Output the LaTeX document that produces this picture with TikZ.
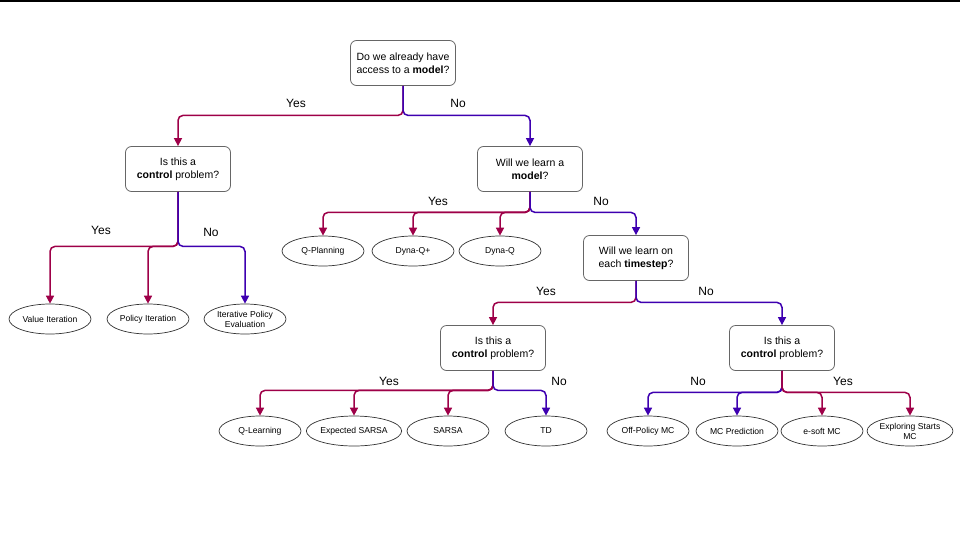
\documentclass[tikz,border=0pt]{standalone}
\usepackage{fontspec}
\setmainfont{Liberation Sans}
\usetikzlibrary{shapes.geometric,arrows.meta}
\definecolor{yesc}{HTML}{9E0048}
\definecolor{noc}{HTML}{3E00B0}
\definecolor{boxc}{HTML}{666666}
\tikzset{
  qbox/.style={draw=boxc, line width=0.8pt, rounded corners=6pt, minimum width=105pt, minimum height=45pt, align=center, inner sep=2pt, font=\fontsize{10.5}{13}\selectfont},
  leaf/.style={ellipse, draw=black!80, line width=0.7pt, minimum width=82pt, minimum height=30pt, inner sep=0pt, align=center, font=\fontsize{8.6}{10}\selectfont},
  lab/.style={font=\fontsize{12}{14}\selectfont},
  con/.style={line width=1.5pt, rounded corners=5pt, -{Triangle[length=8pt,width=8pt]}},
  yesl/.style={con, draw=yesc},
  nol/.style={con, draw=noc},
}
\begin{document}
\begin{tikzpicture}[x=1pt,y=-1pt]
\useasboundingbox (0,0) rectangle (960,538);
\fill[black] (0,0) rectangle (960,2);
% decision boxes
\node[qbox] (q1) at (403,63) {Do we already have\\access to a \textbf{model}?};
\node[qbox] (q2) at (178,169) {Is this a\\\textbf{control} problem?};
\node[qbox] (q3) at (530,169) {Will we learn a\\\textbf{model}?};
\node[qbox] (q4) at (636,258) {Will we learn on\\each \textbf{timestep}?};
\node[qbox] (q5) at (493,348) {Is this a\\\textbf{control} problem?};
\node[qbox] (q6) at (782,348) {Is this a\\\textbf{control} problem?};
% leaves
\node[leaf] (vi) at (50,319) {Value Iteration};
\node[leaf] (pi) at (148,319) {Policy Iteration};
\node[leaf] (ipe) at (245,319) {Iterative Policy\\Evaluation};
\node[leaf] (qp) at (323,251) {Q-Planning};
\node[leaf] (dqp) at (413,251) {Dyna-Q+};
\node[leaf] (dq) at (500,251) {Dyna-Q};
\node[leaf] (ql) at (260,431) {Q-Learning};
\node[leaf] (es) at (354,431) {Expected SARSA};
\node[leaf] (sa) at (448,431) {SARSA};
\node[leaf] (td) at (546,431) {TD};
\node[leaf] (op) at (648,431) {Off-Policy MC};
\node[leaf] (mcp) at (737,431) {MC Prediction};
\node[leaf] (esm) at (822,431) {e-soft MC};
\node[leaf] (exs) at (910,431) {Exploring Starts\\MC};
% connectors
\draw[yesl] (q1.south) |- ([yshift=-29.5pt]q1.south -| q2.north) -- (q2.north);
\draw[nol] (q1.south) |- ([yshift=-29.5pt]q1.south -| q3.north) -- (q3.north);

\draw[yesl] (q2.south) |- ([yshift=-54.5pt]q2.south -| vi.north) -- (vi.north);
\draw[yesl] (q2.south) |- ([yshift=-54.5pt]q2.south -| pi.north) -- (pi.north);
\draw[nol] (q2.south) |- ([yshift=-54.5pt]q2.south -| ipe.north) -- (ipe.north);

\draw[yesl] (q3.south) |- ([yshift=-20.5pt]q3.south -| qp.north) -- (qp.north);
\draw[yesl] (q3.south) |- ([yshift=-20.5pt]q3.south -| dqp.north) -- (dqp.north);
\draw[yesl] (q3.south) |- ([yshift=-20.5pt]q3.south -| dq.north) -- (dq.north);
\draw[nol] (q3.south) |- ([yshift=-20.5pt]q3.south -| q4.north) -- (q4.north);

\draw[yesl] (q4.south) |- ([yshift=-21.5pt]q4.south -| q5.north) -- (q5.north);
\draw[nol] (q4.south) |- ([yshift=-21.5pt]q4.south -| q6.north) -- (q6.north);

\draw[yesl] (q5.south) |- ([yshift=-19.5pt]q5.south -| ql.north) -- (ql.north);
\draw[yesl] (q5.south) |- ([yshift=-19.5pt]q5.south -| es.north) -- (es.north);
\draw[yesl] (q5.south) |- ([yshift=-19.5pt]q5.south -| sa.north) -- (sa.north);
\draw[nol] (q5.south) |- ([yshift=-19.5pt]q5.south -| td.north) -- (td.north);

\draw[nol] (q6.south) |- ([yshift=-21.5pt]q6.south -| op.north) -- (op.north);
\draw[nol] (q6.south) |- ([yshift=-21.5pt]q6.south -| mcp.north) -- (mcp.north);
\draw[yesl] (q6.south) |- ([yshift=-21.5pt]q6.south -| esm.north) -- (esm.north);
\draw[yesl] (q6.south) |- ([yshift=-21.5pt]q6.south -| exs.north) -- (exs.north);
% labels
\node[lab] (l1) at (296,103) {Yes};
\node[lab] (l2) at (458,103) {No};
\node[lab] (l3) at (101,230) {Yes};
\node[lab] (l4) at (211,232) {No};
\node[lab] (l5) at (438,201) {Yes};
\node[lab] (l6) at (601,201) {No};
\node[lab] (l7) at (546,291) {Yes};
\node[lab] (l8) at (706,291) {No};
\node[lab] (l9) at (389,381) {Yes};
\node[lab] (l10) at (559,381) {No};
\node[lab] (l11) at (698,381) {No};
\node[lab] (l12) at (843,381) {Yes};
\end{tikzpicture}
\end{document}
